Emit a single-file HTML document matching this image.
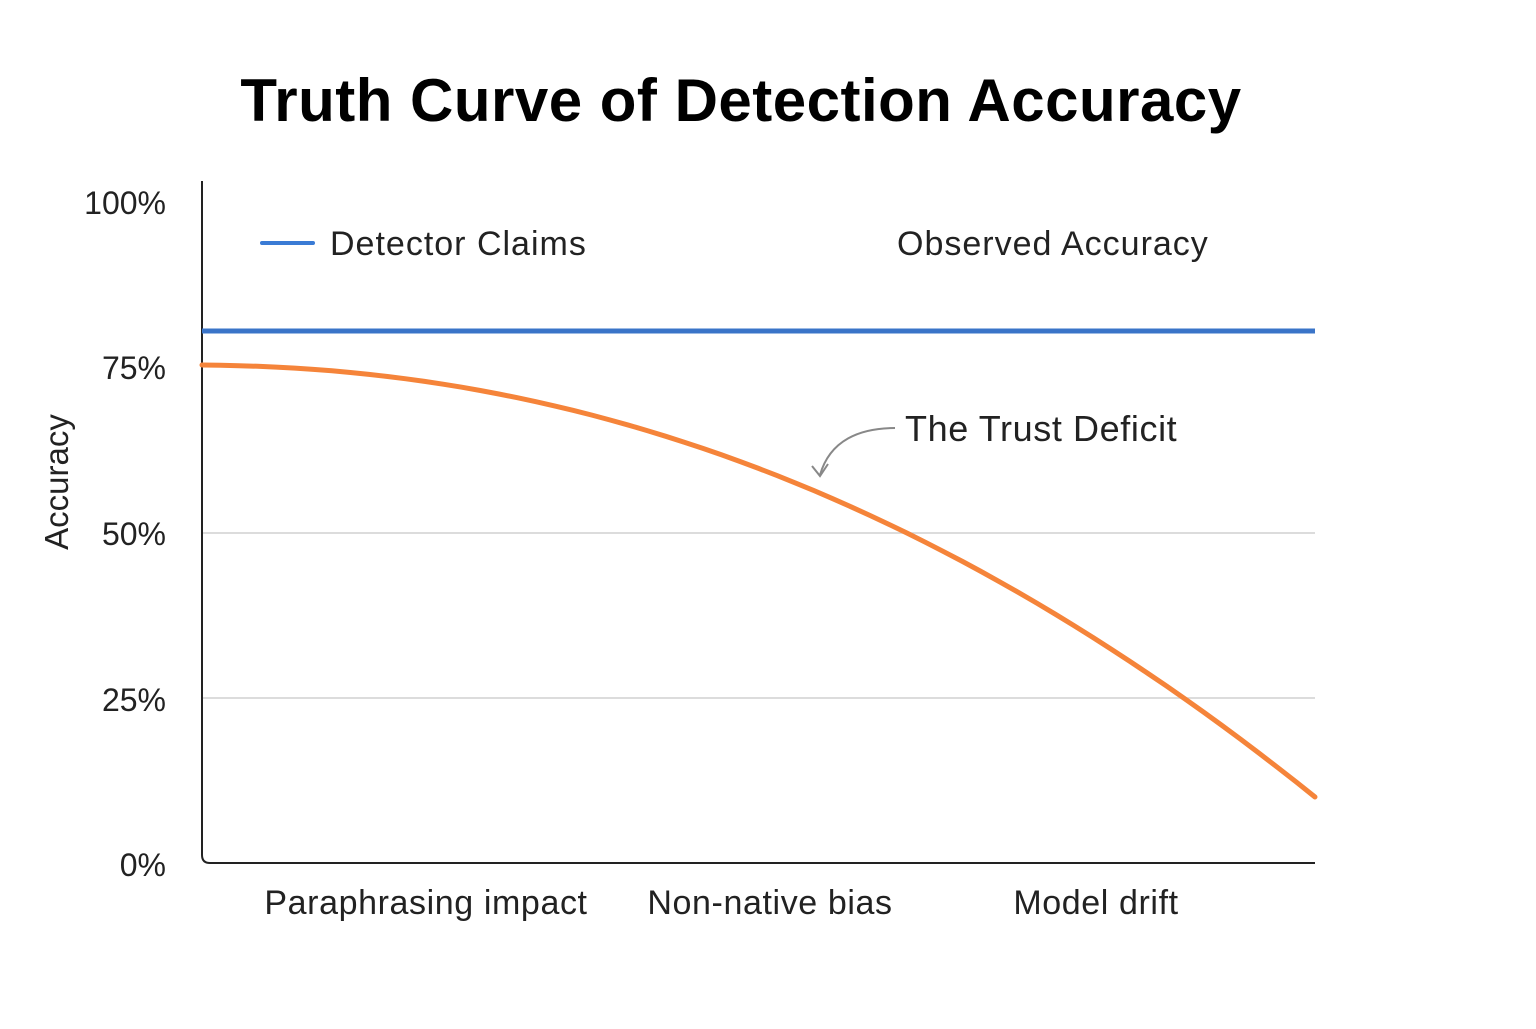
<!DOCTYPE html>
<html><head><style>
body{margin:0;background:#fff;width:1536px;height:1024px;overflow:hidden;font-family:"Liberation Sans",sans-serif}
</style></head><body>
<svg width="1536" height="1024" xmlns="http://www.w3.org/2000/svg" font-family="Liberation Sans, sans-serif">
<text x="741" y="121" text-anchor="middle" font-size="60" font-weight="bold" fill="#000" letter-spacing="0.5">Truth Curve of Detection Accuracy</text>
<g stroke="#d0d0d0" stroke-width="1.5">
<line x1="202" y1="533" x2="1315" y2="533"/>
<line x1="202" y1="698" x2="1315" y2="698"/>
</g>
<path d="M202,181 V855 Q202,863 210,863 H1315" fill="none" stroke="#222" stroke-width="2"/>
<g font-size="32" fill="#222" text-anchor="end">
<text x="166" y="214">100%</text>
<text x="166" y="379">75%</text>
<text x="166" y="545">50%</text>
<text x="166" y="711">25%</text>
<text x="166" y="876">0%</text>
</g>
<text transform="translate(68,482) rotate(-90)" text-anchor="middle" font-size="33" fill="#222">Accuracy</text>
<g font-size="34" fill="#222" text-anchor="middle" letter-spacing="0.6">
<text x="426" y="914">Paraphrasing impact</text>
<text x="770" y="914">Non-native bias</text>
<text x="1096" y="914">Model drift</text>
</g>
<line x1="262" y1="243" x2="313" y2="243" stroke="#3a7bd5" stroke-width="4" stroke-linecap="round"/>
<g font-size="34" fill="#222" letter-spacing="1">
<text x="330" y="255">Detector Claims</text>
<text x="897" y="255">Observed Accuracy</text>
</g>
<line x1="202" y1="331" x2="1315" y2="331" stroke="#3a74c8" stroke-width="5"/>
<path id="c" fill="none" stroke="#f5843a" stroke-width="5" stroke-linecap="round" d=""/>
<text x="905" y="441" font-size="36" fill="#222" letter-spacing="0.6">The Trust Deficit</text>
<path d="M895,428 C860,428 830,440 820,475" fill="none" stroke="#888" stroke-width="2"/>
<path d="M812,466 L820,476 L828,464" fill="none" stroke="#888" stroke-width="2"/>
<script>
var d="";for(var i=0;i<=60;i++){var t=i/60;var x=202+1113*t;var y=365+10*t+422*Math.pow(t,2.1);d+=(i?"L":"M")+x.toFixed(1)+","+y.toFixed(1);}
document.getElementById("c").setAttribute("d",d);
</script>
</svg>
</body></html>
